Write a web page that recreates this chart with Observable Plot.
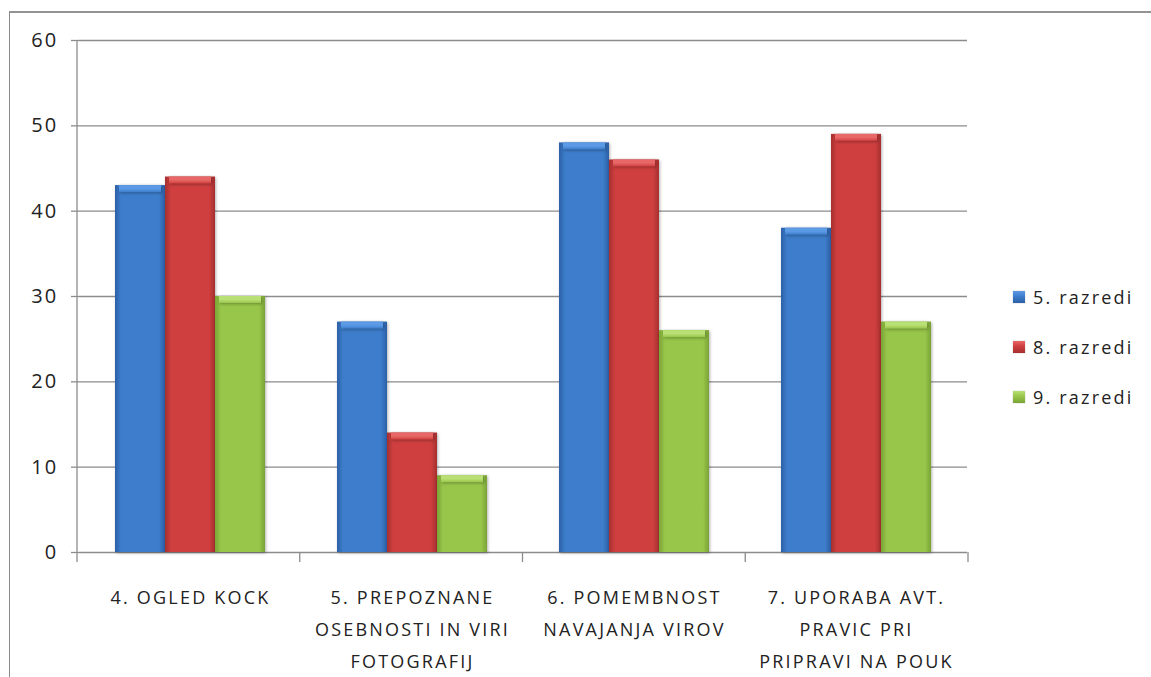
<!DOCTYPE html>
<html>
<head>
<meta charset="utf-8">
<script src="https://cdn.jsdelivr.net/npm/d3@7"></script>
<script src="https://cdn.jsdelivr.net/npm/@observablehq/plot@0.6"></script>
<style>
  html, body { margin: 0; padding: 0; background: #fff; }
  #chart { position: relative; width: 1151px; height: 677px; overflow: hidden; font-family: "Open Sans", sans-serif; color: #222; }
  #chart svg { position: absolute; left: 0; top: 0; }
  #border { position: absolute; left: 9px; top: 11px; right: -10px; bottom: -10px; border-left: 1.5px solid #8a8a8a; border-top: 2px solid #939393; }
  #legend { position: absolute; left: 1013px; top: 272px; }
  .item { display: flex; align-items: center; height: 50px; font-size: 18px; letter-spacing: 2.2px; }
  .swatch { width: 12px; height: 12px; margin-right: 8px; box-shadow: 0 0 1px rgba(0,0,0,.35); }
  #chart svg g[aria-label="bar"] rect { filter: drop-shadow(1px 1px 1.5px rgba(0,0,0,0.3)); }
</style>
</head>
<body>
<div id="chart"><div id="border"></div></div>
<svg width="0" height="0" style="position:absolute">
  <defs id="defs"></defs>
</svg>
<script>
// Survey results by task and grade
const categories = [
  "4. OGLED KOCK",
  "5. PREPOZNANE\nOSEBNOSTI IN VIRI\nFOTOGRAFIJ",
  "6. POMEMBNOST\nNAVAJANJA VIROV",
  "7. UPORABA AVT.\nPRAVIC PRI\nPRIPRAVI NA POUK"
];
const series = ["5. razredi", "8. razredi", "9. razredi"];
const razredi5 = [43, 27, 48, 38];
const razredi8 = [44, 14, 46, 49];
const razredi9 = [30, 9, 26, 27];
const yTicks = [0, 10, 20, 30, 40, 50, 60];

// Bar shades per series: edge, body, highlight
const palette = [
  { dark: "#2c5fa6", base: "#3d7dcb", light: "#5c9ae6" },
  { dark: "#a52f2f", base: "#cf3f3f", light: "#e86767" },
  { dark: "#7aa336", base: "#98c64a", light: "#b9e074" }
];

const values = [razredi5, razredi8, razredi9];
const table = series.flatMap((s, i) =>
  categories.map((c, j) => ({ category: c, series: s, value: values[i][j] }))
);

// Gradient definitions for bar bodies and beveled tops
const defs = d3.select("#defs");
palette.forEach((p, i) => {
  const body = defs.append("linearGradient").attr("id", `body${i}`).attr("x1", 0).attr("x2", 1).attr("y1", 0).attr("y2", 0);
  [[0, p.dark], [0.12, p.base], [0.88, p.base], [1, p.dark]].forEach(([o, c]) =>
    body.append("stop").attr("offset", o).attr("stop-color", c));
  const top = defs.append("linearGradient").attr("id", `top${i}`).attr("x1", 0).attr("x2", 0).attr("y1", 0).attr("y2", 1);
  [[0, p.light], [0.5, p.light], [1, p.base]].forEach(([o, c]) =>
    top.append("stop").attr("offset", o).attr("stop-color", c));
});

const grid = "#8c8c8c";

const plot = Plot.plot({
  width: 1151,
  height: 677,
  marginLeft: 77,
  marginRight: 183,
  marginTop: 40,
  marginBottom: 125,
  style: { fontFamily: "Open Sans, sans-serif", fontSize: "18px", letterSpacing: "2.2px", color: "#222", background: "transparent" },
  fx: { domain: categories, padding: 0, axis: null, label: null },
  x: { domain: series, paddingInner: 0, paddingOuter: 0.72, axis: null, label: null },
  y: { domain: [0, 60], axis: null, label: null },
  marks: [
    Plot.ruleY(yTicks, { stroke: grid, strokeWidth: 1.3 }),
    ...series.map((s, i) =>
      Plot.barY(table.filter(d => d.series === s), {
        fx: "category", x: "series", y: "value", fill: `url(#body${i})`
      })
    ),
    ...series.map((s, i) =>
      Plot.barY(table.filter(d => d.series === s), {
        fx: "category", x: "series", y1: "value", y2: "value",
        insetBottom: -7, fill: `url(#top${i})`, insetLeft: 4, insetRight: 4
      })
    ),
    Plot.axisY(yTicks, {
      tickSize: 8, tickPadding: 13, stroke: grid, strokeWidth: 1.3, fill: "#222",
      fontSize: 20, label: null, tickFormat: d => `${d}`
    }),
    Plot.axisFx({
      anchor: "bottom", tickSize: 0, tickPadding: 29, lineHeight: 1.78,
      fill: "#222", fontSize: 18, label: null, tickFormat: d => d
    })
  ]
});

document.getElementById("chart").appendChild(plot);

// Y axis line and category boundary ticks, placed from the plot's own scales
const fxD = plot.scale("fx");
const yD = plot.scale("y");
const fxScale = d3.scaleBand(fxD.domain, fxD.range).paddingInner(fxD.paddingInner ?? 0).paddingOuter(fxD.paddingOuter ?? 0).align(fxD.align ?? 0.5);
const yScale = d3.scaleLinear(yD.domain, yD.range);
const edges = [...fxD.domain.map(c => fxScale(c)), fxScale(fxD.domain.at(-1)) + fxScale.bandwidth()];
const axes = d3.select(plot).append("g").attr("stroke", grid).attr("stroke-width", 1.3);
axes.append("line")
  .attr("x1", edges[0]).attr("x2", edges[0])
  .attr("y1", yScale(60)).attr("y2", yScale(0));
axes.selectAll(".edge").data(edges).join("line")
  .attr("x1", d => d).attr("x2", d => d)
  .attr("y1", yScale(0)).attr("y2", yScale(0) + 10);

// Legend
const legend = d3.select("#chart").append("div").attr("id", "legend");
series.forEach((s, i) => {
  const item = legend.append("div").attr("class", "item");
  item.append("div").attr("class", "swatch").style("background", `linear-gradient(${palette[i].light}, ${palette[i].base} 45%, ${palette[i].dark})`);
  item.append("span").text(s);
});
</script>
</body>
</html>
